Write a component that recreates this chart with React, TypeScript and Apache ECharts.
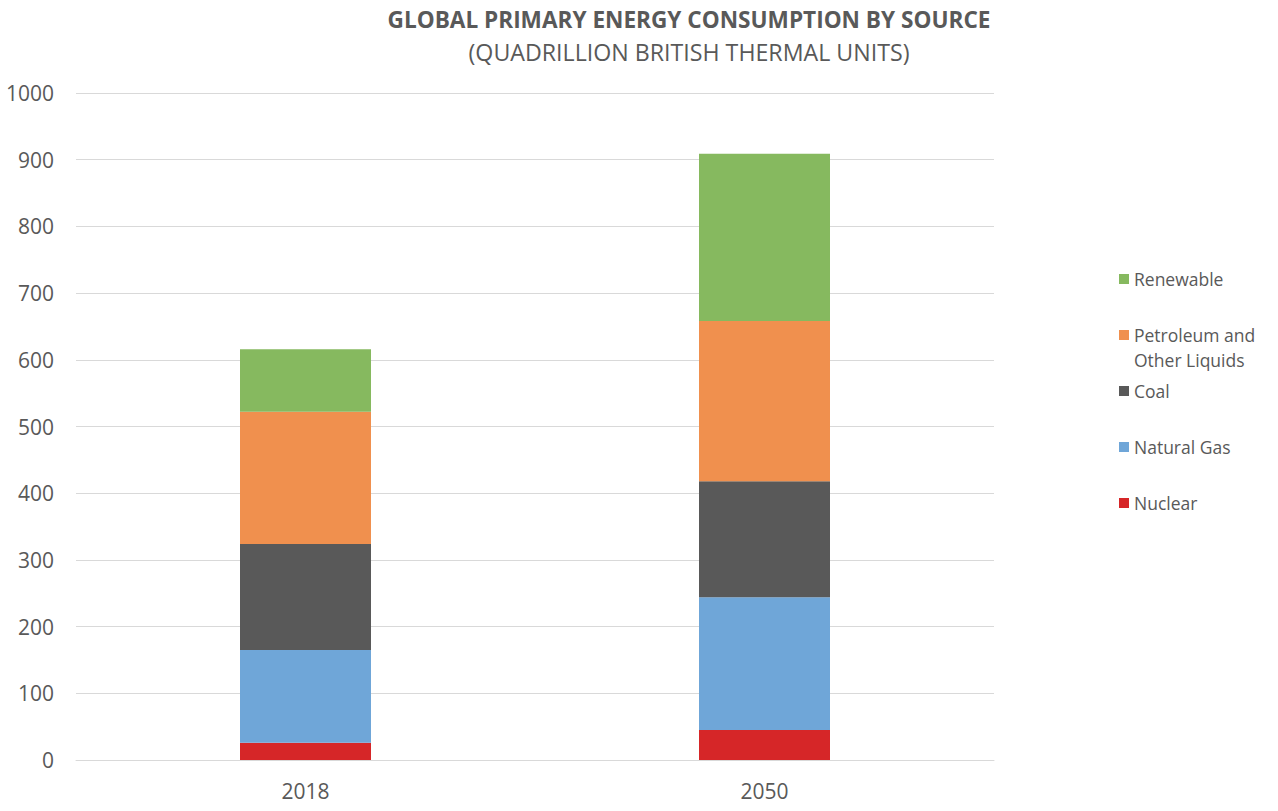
import React, { useEffect, useRef } from "react";
import * as echarts from "echarts";

const categories = ["2018", "2050"];
const nuclear = [26, 45];
const naturalGas = [139, 199];
const coal = [159, 174];
const petroleum = [198, 240];
const renewable = [94, 251];

const seriesNames = ["Nuclear", "Natural Gas", "Coal", "Petroleum and Other Liquids", "Renewable"];
const seriesColors = ["#D62628", "#6FA6D8", "#595959", "#F0904E", "#86B95F"];
const seriesValues = [nuclear, naturalGas, coal, petroleum, renewable];

const titleText = "GLOBAL PRIMARY ENERGY CONSUMPTION BY SOURCE";
const subtitleText = "(QUADRILLION BRITISH THERMAL UNITS)";

const FONT = "'Open Sans', 'Noto Sans', sans-serif";
const TXT = "#595959";

export default function App() {
  const ref = useRef<HTMLDivElement>(null);
  useEffect(() => {
    if (!ref.current) return;
    const chart = echarts.init(ref.current, undefined, { renderer: "svg" });
    const legendCenters: Record<string, number> = {
      Renewable: 279,
      "Petroleum and Other Liquids": 335,
      Coal: 391,
      "Natural Gas": 447,
      Nuclear: 503,
    };
    const legends = seriesNames.map((name) => {
      const isPet = name === "Petroleum and Other Liquids";
      return {
        data: [name],
        orient: "vertical",
        left: 1119,
        top: isPet ? legendCenters[name] - 37.5 : legendCenters[name] - 12.5,
        itemWidth: 10,
        itemHeight: 10,
        icon: "rect",
        padding: 0,
        formatter: (n: string) => (n === "Petroleum and Other Liquids" ? " \nPetroleum and\nOther Liquids" : n),
        textStyle: {
          color: TXT,
          fontSize: 17.5,
          fontFamily: FONT,
          lineHeight: 25,
        },
      };
    });
    chart.setOption({
      animation: false,
      backgroundColor: "#ffffff",
      title: [
        {
          text: titleText,
          left: 689,
          top: 8,
          textAlign: "center",
          padding: 0,
          textStyle: { color: TXT, fontSize: 22.6, fontWeight: "bold", fontFamily: FONT },
        },
        {
          text: subtitleText,
          left: 689,
          top: 40,
          textAlign: "center",
          padding: 0,
          textStyle: { color: TXT, fontSize: 23.2, fontWeight: "normal", fontFamily: FONT },
        },
      ],
      legend: legends,
      grid: { left: 76, right: 284, top: 93, bottom: 51, containLabel: false },
      xAxis: {
        type: "category",
        data: categories,
        axisLine: { lineStyle: { color: "#D9D9D9", width: 1 } },
        axisTick: { show: false },
        axisLabel: { color: TXT, fontSize: 21, fontFamily: FONT, margin: 20 },
      },
      yAxis: {
        type: "value",
        min: 0,
        max: 1000,
        interval: 100,
        axisLine: { show: false },
        axisTick: { show: false },
        splitLine: { lineStyle: { color: "#D9D9D9", width: 1 } },
        axisLabel: { color: TXT, fontSize: 21, fontFamily: FONT, margin: 22, formatter: (v: number) => String(v) },
      },
      series: seriesNames.map((name, i) => ({
        name,
        type: "bar",
        stack: "total",
        barWidth: 131,
        data: seriesValues[i],
        itemStyle: { color: seriesColors[i] },
      })),
    });
    return () => chart.dispose();
  }, []);
  return <div ref={ref} style={{ position: "fixed", left: 0, top: 0, width: 1278, height: 811 }} />;
}
